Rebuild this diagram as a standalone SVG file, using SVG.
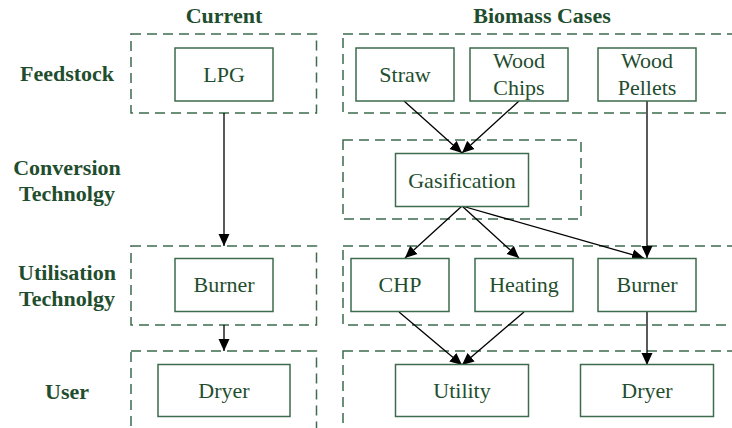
<svg xmlns="http://www.w3.org/2000/svg" width="732" height="428" viewBox="0 0 732 428">
<style>
.grp{fill:none;stroke:#3d6b4d;stroke-width:1.5;stroke-dasharray:10 6}
.box{fill:#fff;stroke:#3d6b4d;stroke-width:1.5}
.nt{font-family:'Liberation Serif',serif;font-size:22px;fill:#1f4e2e;text-anchor:middle}
.lb{font-family:'Liberation Serif',serif;font-size:22px;font-weight:bold;fill:#1f4e2e;text-anchor:middle}
.ed{fill:none;stroke:#000;stroke-width:1.3;marker-end:url(#ah)}
</style>
<defs>
<marker id="ah" markerUnits="userSpaceOnUse" markerWidth="12" markerHeight="12" refX="12" refY="6" orient="auto" viewBox="0 0 12 12">
<path d="M0,0.5 L12,6 L0,11.5 z" fill="#000"/>
</marker>
</defs>
<rect width="732" height="428" fill="#fff"/>
<g id="headers">
<text class="lb" x="224" y="23">Current</text>
<text class="lb" x="542" y="23">Biomass Cases</text>
<text class="lb" x="67" y="81">Feedstock</text>
<text class="lb" x="67" y="175">Conversion</text>
<text class="lb" x="67" y="201">Technolgy</text>
<text class="lb" x="67" y="280">Utilisation</text>
<text class="lb" x="67" y="306">Technolgy</text>
<text class="lb" x="67" y="399">User</text>
</g>
<g id="groups">
<rect class="grp" x="131" y="34" width="185.5" height="79"/>
<rect class="grp" x="343" y="34" width="400" height="79"/>
<rect class="grp" x="343" y="140" width="238" height="79"/>
<rect class="grp" x="131" y="246" width="185.5" height="79"/>
<rect class="grp" x="343" y="246" width="400" height="79"/>
<rect class="grp" x="131" y="351" width="185.5" height="100"/>
<rect class="grp" x="343" y="351" width="400" height="100"/>
</g>
<g id="edges">
<line class="ed" x1="224" y1="113" x2="224" y2="246"/>
<line class="ed" x1="224" y1="325" x2="224" y2="351"/>
<line class="ed" x1="404" y1="101" x2="462" y2="153"/>
<line class="ed" x1="519" y1="101" x2="462" y2="153"/>
<line class="ed" x1="647" y1="101" x2="647" y2="258"/>
<line class="ed" x1="462" y1="206" x2="405" y2="258"/>
<line class="ed" x1="462" y1="206" x2="519" y2="258"/>
<line class="ed" x1="462" y1="206" x2="644" y2="258"/>
<line class="ed" x1="399" y1="312" x2="462" y2="365"/>
<line class="ed" x1="524" y1="312" x2="462" y2="365"/>
<line class="ed" x1="647" y1="312" x2="647" y2="365"/>
</g>
<g id="lpg"><rect class="box" x="175" y="48" width="98" height="53"/><text class="nt" x="224" y="82">LPG</text></g>
<g id="straw"><rect class="box" x="356" y="48" width="98" height="53"/><text class="nt" x="405" y="82">Straw</text></g>
<g id="woodchips"><rect class="box" x="470" y="48" width="98" height="53"/><text class="nt" x="519" y="68">Wood</text><text class="nt" x="519" y="95">Chips</text></g>
<g id="woodpellets"><rect class="box" x="598" y="48" width="98" height="53"/><text class="nt" x="647" y="68">Wood</text><text class="nt" x="647" y="95">Pellets</text></g>
<g id="gasification"><rect class="box" x="395.5" y="153.5" width="133" height="53"/><text class="nt" x="462" y="188">Gasification</text></g>
<g id="burner1"><rect class="box" x="175" y="258.5" width="98" height="53"/><text class="nt" x="224" y="292">Burner</text></g>
<g id="chp"><rect class="box" x="351" y="258.5" width="98" height="53"/><text class="nt" x="400" y="292">CHP</text></g>
<g id="heating"><rect class="box" x="475" y="258.5" width="98" height="53"/><text class="nt" x="524" y="292">Heating</text></g>
<g id="burner2"><rect class="box" x="598" y="258.5" width="98" height="53"/><text class="nt" x="647" y="292">Burner</text></g>
<g id="dryer1"><rect class="box" x="158" y="364.5" width="132" height="52"/><text class="nt" x="224" y="398">Dryer</text></g>
<g id="utility"><rect class="box" x="395.5" y="364.5" width="133" height="52"/><text class="nt" x="462" y="398">Utility</text></g>
<g id="dryer2"><rect class="box" x="580.5" y="364.5" width="133" height="52"/><text class="nt" x="647" y="398">Dryer</text></g>
</svg>
